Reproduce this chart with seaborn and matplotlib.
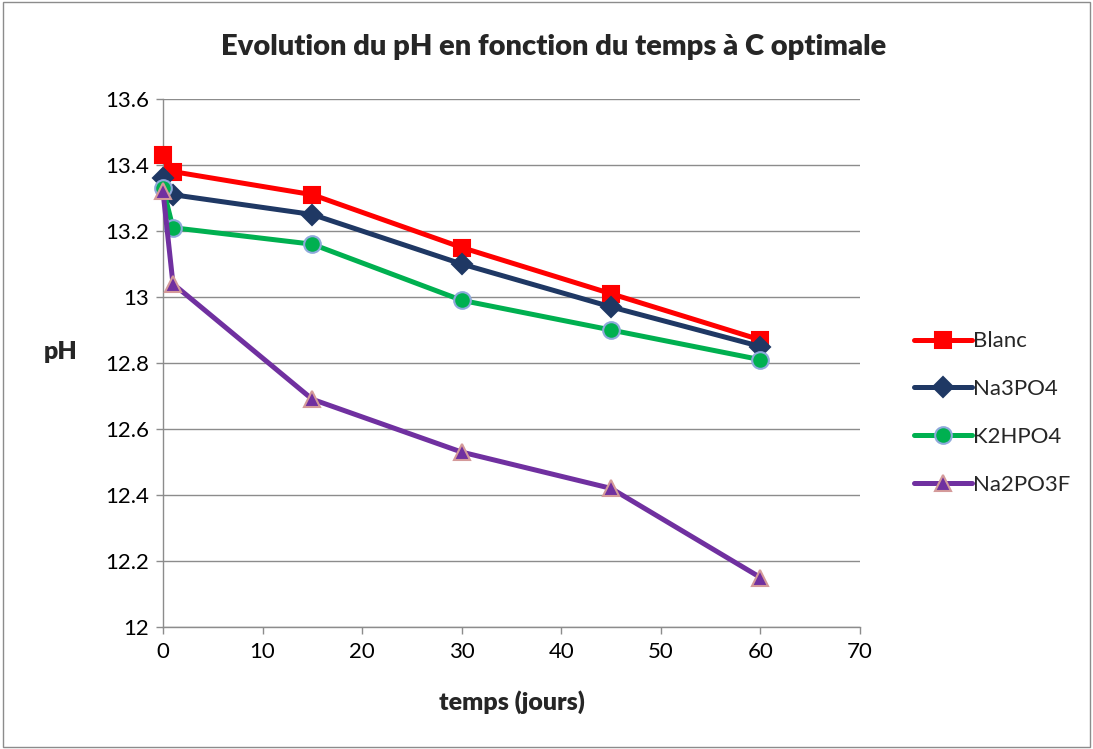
import matplotlib
matplotlib.use("Agg")
import matplotlib.pyplot as plt
import seaborn as sns
import pandas as pd

days = [0, 1, 15, 30, 45, 60]
blanc = [13.43, 13.38, 13.31, 13.15, 13.01, 12.87]
na3po4 = [13.36, 13.31, 13.25, 13.10, 12.97, 12.85]
k2hpo4 = [13.33, 13.21, 13.16, 12.99, 12.90, 12.81]
na2po3f = [13.32, 13.04, 12.69, 12.53, 12.42, 12.15]
series_names = ["Blanc", "Na3PO4", "K2HPO4", "Na2PO3F"]

sns.set_theme(style="white")
plt.rcParams['font.family'] = ['Lato', 'DejaVu Sans']

rows = []
for name, vals in zip(series_names, [blanc, na3po4, k2hpo4, na2po3f]):
    for d, v in zip(days, vals):
        rows.append({"temps": d, "pH": v, "serie": name})
df = pd.DataFrame(rows)

fig = plt.figure(figsize=(10.93, 7.49), dpi=100)
ax = fig.add_axes([163/1093, 1-627/749, (860-163)/1093, (627-99)/749])

colors = {"Blanc": "#FF0000", "Na3PO4": "#1F3864", "K2HPO4": "#00B050", "Na2PO3F": "#7030A0"}
markers = {"Blanc": "s", "Na3PO4": "D", "K2HPO4": "o", "Na2PO3F": "^"}
edges = {"Blanc": "#FF0000", "Na3PO4": "#1F3864", "K2HPO4": "#8EA9DB", "Na2PO3F": "#D49A9A"}
msizes = {"Blanc": 12, "Na3PO4": 10, "K2HPO4": 12, "Na2PO3F": 12}

for name in series_names:
    sub = df[df["serie"] == name]
    sns.lineplot(data=sub, x="temps", y="pH", ax=ax, color=colors[name], lw=3.6,
                 marker=markers[name], markersize=msizes[name],
                 markerfacecolor=colors[name], markeredgecolor=edges[name],
                 markeredgewidth=1.5, label=name, clip_on=False, zorder=3)

ax.set_xlim(0, 70)
ax.set_ylim(12, 13.6)
ax.set_xticks(range(0, 71, 10))
ax.set_yticks([12, 12.2, 12.4, 12.6, 12.8, 13, 13.2, 13.4, 13.6])
ax.set_yticklabels(["12", "12.2", "12.4", "12.6", "12.8", "13", "13.2", "13.4", "13.6"])
ax.yaxis.grid(True, color="#8C8C8C", lw=1)
ax.xaxis.grid(False)
ax.set_axisbelow(True)
for s in ["top", "right"]:
    ax.spines[s].set_visible(False)
for s in ["left", "bottom"]:
    ax.spines[s].set_color("#8C8C8C")
    ax.spines[s].set_linewidth(1)
ax.tick_params(axis="both", which="both", direction="out", length=5, width=1,
               color="#8C8C8C", labelsize=16, labelcolor="black", left=True, bottom=True)
ax.tick_params(axis="y", pad=5)
ax.tick_params(axis="x", pad=6)
ax.set_xlabel("temps (jours)", fontsize=18, fontweight="heavy", labelpad=20)
ax.set_ylabel("pH", fontsize=18, fontweight="heavy", rotation=0, labelpad=0)
ax.yaxis.set_label_coords(-0.147, 0.5)
fig.text(554/1093, 1-47/749, "Evolution du pH en fonction du temps à C optimale",
         fontsize=21, fontweight="heavy", ha="center", va="center")

ax.legend(loc="center left", bbox_to_anchor=(1.065, 0.405), frameon=False, fontsize=16,
          handlelength=2.6, handletextpad=0.05, labelspacing=1.25, borderaxespad=0)

fig.patches.append(plt.Rectangle((0.003, 0.003), 0.994, 0.994, transform=fig.transFigure,
                                 fill=False, edgecolor="#8C8C8C", lw=1))

fig.savefig("out.png", dpi=100)
